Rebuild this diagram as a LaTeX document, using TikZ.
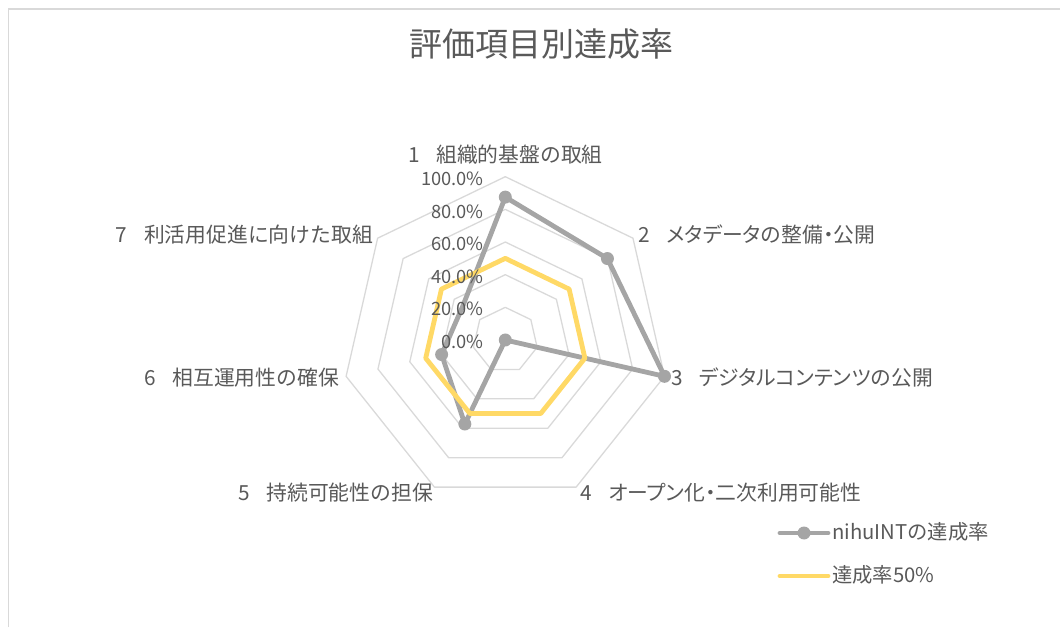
\documentclass[tikz,border=0pt]{standalone}
\usepackage{fontspec}
\newfontfamily\jp{Noto Sans CJK JP}
\newfontfamily\jpk[RawFeature=+palt]{Noto Sans CJK JP}
\definecolor{txt}{HTML}{595959}
\definecolor{gridc}{HTML}{D9D9D9}
\definecolor{ser}{HTML}{A5A5A5}
\definecolor{yel}{HTML}{FFD966}
\begin{document}
\begin{tikzpicture}[x=1pt,y=1pt,
  gridline/.style={draw=gridc,line width=1.3pt,line join=round},
  serline/.style={draw=ser,line width=4.8pt,line join=round,line cap=round},
  yelline/.style={draw=yel,line width=4.8pt,line join=round,line cap=round},
  mk/.style={fill=ser},
  lbl/.style={inner sep=0pt,text height=0.83em,text depth=0.07em,text=txt,font=\jp\fontsize{20.8}{24}\selectfont},
  leglbl/.style={inner sep=0pt,text height=0.83em,text depth=0.07em,text=txt,font=\jp\fontsize{20.3}{24}\selectfont},
  ticklbl/.style={inner sep=0pt,text height=0.73em,text depth=0pt,text=txt,font=\jp\fontsize{18.3}{22}\selectfont,anchor=east},
  titlelbl/.style={inner sep=0pt,text height=0.83em,text depth=0.07em,text=txt,font=\jp\fontsize{33}{36}\selectfont}
]
\useasboundingbox (0,0) rectangle (1060,627);
% chart frame (only top and left edges visible)
\draw[draw=gridc,line width=1.5pt] (8.5,0) -- (8.5,618) -- (1060,618);
% title
\node[titlelbl] (title) at (541,574) {評価項目別達成率};

\def\R{163.3}
\begin{scope}[shift={(505.3,287)}]
  % grid heptagons
  \foreach \f in {0.2,0.4,0.6,0.8,1.0}{
    \draw[gridline] (90:{\f*\R}) \foreach \k in {1,...,6}{ -- ({90-\k*360/7}:{\f*\R}) } -- cycle;
  }
  % nihuINT series
  \coordinate (p1) at (90:{0.875*\R});
  \coordinate (p2) at ({90-1*360/7}:{0.8*\R});
  \coordinate (p3) at ({90-2*360/7}:{1.0*\R});
  \coordinate (p4) at (0,0);
  \coordinate (p5) at ({90-4*360/7}:{0.571*\R});
  \coordinate (p6) at ({90-5*360/7}:{0.4*\R});
  \coordinate (p7) at ({90-6*360/7}:{0.333*\R});
  \draw[serline] (p1) -- (p2) -- (p3) -- (p4) -- (p5) -- (p6) -- (p7) -- cycle;
  \foreach \p in {p1,p2,p3,p4,p5,p6}{ \fill[mk] (\p) circle (6.5); }
  % 50% series
  \draw[yelline] (90:{0.5*\R}) \foreach \k in {1,...,6}{ -- ({90-\k*360/7}:{0.5*\R}) } -- cycle;
\end{scope}

% tick labels
\node[ticklbl] (t100) at (484,{282+1.0*163.3}) {100.0\%};
\node[ticklbl] (t80) at (484,{282+0.8*163.3}) {80.0\%};
\node[ticklbl] (t60) at (484,{282+0.6*163.3}) {60.0\%};
\node[ticklbl] (t40) at (484,{282+0.4*163.3}) {40.0\%};
\node[ticklbl] (t20) at (484,{282+0.2*163.3}) {20.0\%};
\node[ticklbl] (t0) at (484,282) {0.0\%};

% category labels
\node[lbl,anchor=center] (c1) at (505.5,468) {1\hspace{0.8em}組織的基盤の取組};
\node[lbl,anchor=west] (c2) at (638,388) {2\hspace{0.8em}{\jpk メタデータ}の整備{\jpk ・}公開};
\node[lbl,anchor=west] (c3) at (671,245) {3\hspace{0.8em}{\jpk デジタルコンテンツ}の公開};
\node[lbl,anchor=west] (c4) at (580,130) {4\hspace{0.8em}{\jpk オープン}化{\jpk ・}二次利用可能性};
\node[lbl,anchor=east] (c5) at (433,130) {5\hspace{0.8em}持続可能性の担保};
\node[lbl,anchor=east] (c6) at (339,245) {6\hspace{0.8em}相互運用性の確保};
\node[lbl,anchor=east] (c7) at (373,388) {7\hspace{0.8em}利活用促進に向けた取組};

% legend
\coordinate (l1a) at (780,94);
\coordinate (l1b) at (828,94);
\coordinate (l1m) at (804,94);
\draw[serline] (l1a) -- (l1b);
\fill[mk] (l1m) circle (6.5);
\node[leglbl,anchor=west] (leg1) at (832,91) {nihuINTの達成率};
\coordinate (l2a) at (780,51);
\coordinate (l2b) at (828,51);
\draw[yelline] (l2a) -- (l2b);
\node[leglbl,anchor=west] (leg2) at (832,48) {達成率50\%};
\end{tikzpicture}
\end{document}
